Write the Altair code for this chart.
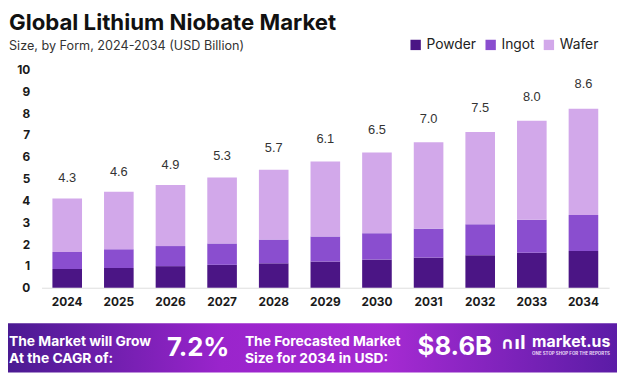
import altair as alt
import pandas as pd

years = ["2024", "2025", "2026", "2027", "2028", "2029", "2030", "2031", "2032", "2033", "2034"]
powder = [0.86, 0.91, 0.99, 1.05, 1.12, 1.20, 1.29, 1.38, 1.49, 1.60, 1.68]
ingot = [0.78, 0.86, 0.92, 0.98, 1.09, 1.15, 1.21, 1.33, 1.42, 1.52, 1.65]
wafer = [2.45, 2.63, 2.80, 3.02, 3.20, 3.44, 3.70, 3.96, 4.23, 4.53, 4.88]
totals = [4.3, 4.6, 4.9, 5.3, 5.7, 6.1, 6.5, 7.0, 7.5, 8.0, 8.6]
segments = ["Powder", "Ingot", "Wafer"]
seg_colors = ["#4b1585", "#8a4ecf", "#d2a8ea"]
y_ticks = [0, 1, 2, 3, 4, 5, 6, 7, 8, 9, 10]

title_text = "Global Lithium Niobate Market"
subtitle_text = "Size, by Form, 2024-2034 (USD Billion)"
banner_left = ["The Market will Grow", "At the CAGR of:"]
banner_cagr = "7.2%"
banner_mid = ["The Forecasted Market", "Size for 2034 in USD:"]
banner_value = "$8.6B"

rows = []
for i, y in enumerate(years):
    for k, (name, vals) in enumerate(zip(segments, [powder, ingot, wafer])):
        rows.append({"year": y, "form": name, "value": vals[i], "ord": k})
df = pd.DataFrame(rows)
lab_df = pd.DataFrame({"year": years, "total": totals, "label": [f"{t:.1f}" for t in totals]})

FONT = "Inter"

x_scale = alt.Scale(domain=years, paddingInner=0.426, paddingOuter=0.21)
y_scale = alt.Scale(domain=[0, 10], nice=False)

x_axis = alt.Axis(title=None, labelAngle=0, ticks=False, domainColor="#dddddd",
                  labelFont=FONT, labelFontWeight="bold", labelFontSize=12,
                  labelColor="#1a1a1a", labelPadding=9)
y_axis = alt.Axis(title=None, values=y_ticks, tickCount=11, grid=False, domain=False,
                  ticks=False, labelOverlap=False, labelFont=FONT,
                  labelFontWeight="bold", labelFontSize=12, labelColor="#1a1a1a",
                  labelPadding=12)

bars = alt.Chart(df).mark_bar(size=30).encode(
    x=alt.X("year:N", scale=x_scale, sort=years, axis=x_axis),
    y=alt.Y("value:Q", scale=y_scale, stack="zero", axis=y_axis),
    color=alt.Color("form:N", scale=alt.Scale(domain=segments, range=seg_colors),
                    legend=alt.Legend(title=None, orient="none", direction="horizontal",
                                      legendX=372, legendY=-32, symbolType="square",
                                      symbolSize=110, symbolStrokeWidth=0, labelFont=FONT,
                                      labelFontSize=14, labelColor="#222222",
                                      columnPadding=7, labelOffset=4)),
    order=alt.Order("ord:Q", sort="ascending"),
)

labels = alt.Chart(lab_df).mark_text(dy=-16, baseline="middle", font="Liberation Sans",
                                     fontSize=13, color="#333333").encode(
    x=alt.X("year:N", scale=x_scale, sort=years, axis=x_axis),
    y=alt.Y("total:Q", scale=y_scale, axis=y_axis),
    text="label:N",
)

def txt(s, x, y, size, weight="bold", color="#111111", font=FONT, align="left"):
    return alt.Chart(pd.DataFrame({"t": [s]})).mark_text(
        align=align, baseline="alphabetic", fontSize=size, fontWeight=weight,
        color=color, font=font).encode(x=alt.value(x), y=alt.value(y), text="t:N")

banner = alt.Chart(pd.DataFrame({"a": [0]})).mark_rect(
    color=alt.LinearGradient(gradient="linear", x1=0, x2=1, y1=0, y2=0,
                             stops=[alt.GradientStop(offset=0, color="#4a1a92"),
                                    alt.GradientStop(offset=0.35, color="#9a24cc"),
                                    alt.GradientStop(offset=0.62, color="#a52ad2"),
                                    alt.GradientStop(offset=1, color="#5b1ca6")])
).encode(x=alt.value(-34), x2=alt.value(583), y=alt.value(257), y2=alt.value(307))

layers = [
    bars, labels,
    txt(title_text, -33, -40, 22.5, color="#111111"),
    txt(subtitle_text, -33, -20, 12.8, weight="normal", color="#333333"),
    banner,
    txt(banner_left[0], -33, 280, 14, color="white"),
    txt(banner_left[1], -33, 297, 14, color="white"),
    txt(banner_cagr, 127, 290, 26, color="white"),
    txt(banner_mid[0], 206, 280, 14, color="white"),
    txt(banner_mid[1], 206, 297, 14, color="white"),
    txt(banner_value, 381, 289, 26, color="white"),
    txt("\u2229\u0131l", 465, 283, 17, color="white", font="DejaVu Sans"),
    txt("market.us", 497, 281, 16, color="white"),
    txt("ONE STOP SHOP FOR THE REPORTS", 497, 289, 4.5, color="#e8d8f5"),
]

chart = alt.layer(*layers).properties(
    width=575, height=221,
    padding={"left": 34, "top": 60, "right": 8, "bottom": 86},
    autosize=alt.AutoSizeParams(type="none"),
    background="white",
).configure_view(stroke=None)

chart.save("out.html", embed_options={"renderer": "svg", "actions": False})
